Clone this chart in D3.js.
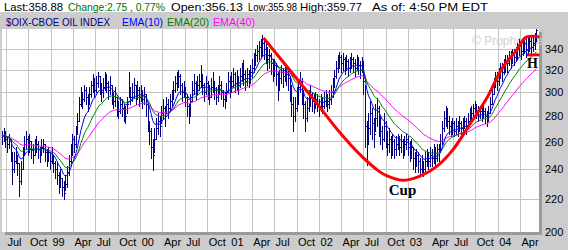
<!DOCTYPE html>
<html lang="en">
<head>
<meta charset="UTF-8">
<title>$OIX-CBOE OIL INDEX</title>
<script src="https://d3js.org/d3.v7.min.js"></script>
<style>
    body { margin: 0; background: #fff; }
    svg text { font-family: Arial, "Liberation Sans", sans-serif; font-size: 11px; }
    .grid line { stroke: #c4c4c4; stroke-width: 1; shape-rendering: crispEdges; }
    .bars line { stroke: #000080; stroke-width: 1; shape-rendering: crispEdges; }
</style>
</head>
<body>
<svg width="568" height="250"></svg>
<script>
// weekly bars, first week starts Mon 15 Jun 1998
const firstWeek = new Date(1998, 5, 15);

const closes = [
    264,266,262,258,262,252,240,246,250,244,232,240,
    250,258,262,256,260,254,250,256,258,254,250,256,258,252,
    248,252,246,250,244,240,
    236,230,234,228,224,230,238,
    246,252,262,258,268,276,
    290,298,294,302,296,290,298,
    306,310,302,308,314,306,300,304,312,308,302,306,298,292,296,288,
    284,290,286,282,280,290,
    302,296,300,306,298,302,296,300,294,298,
    290,276,268,256,250,
    262,270,276,272,282,286,280,290,286,292,296,
    302,308,312,314,306,300,304,296,288,282,
    292,302,308,300,306,310,
    314,306,300,308,302,296,304,310,302,296,300,
    306,300,294,292,300,310,304,
    310,316,308,312,306,314,320,316,310,316,312,318,
    322,328,334,338,342,340,346,340,336,
    330,334,326,318,324,316,
    306,312,318,314,320,316,312,
    304,290,280,286,296,304,
    310,300,290,278,286,294,298,292,
    288,294,290,286,292,288,292,296,290,294,300,306,
    314,322,328,332,326,
    330,324,328,322,326,330,326,322,328,324,320,326,
    310,272,258,
    270,282,274,266,278,286,276,
    268,262,272,266,258,262,
    256,260,254,258,262,256,260,254,258,262,256,252,256,
    248,244,250,246,240,244,240,246,250,
    246,250,248,252,248,254,252,
    260,270,278,282,276,272,
    270,274,268,272,270,274,270,272,276,272,276,280,
    282,286,288,284,280,284,282,284,280,278,282,
    290,298,306,312,310,316,320,318,324,328,
    326,332,330,336,332,336,
    340,344,338,342,346,340,344,348,342,346,350,358.88
];

const highs = [
    268,270,268,264,266,262,252,252,256,250,244,246,
    256,264,268,264,266,260,258,262,264,260,256,262,262,258,
    254,256,252,256,250,246,
    244,238,240,234,232,236,242,
    250,258,266,264,272,282,
    296,304,300,306,304,298,304,
    310,316,312,314,318,314,308,312,318,316,310,314,306,300,304,296,
    292,296,294,290,288,296,
    318,304,308,312,306,310,304,306,302,304,
    298,290,276,270,262,
    270,278,282,280,288,294,288,296,294,298,302,
    310,314,318,320,316,308,310,304,298,290,
    298,310,316,310,314,316,
    324,316,308,314,310,306,312,318,310,304,306,
    314,310,302,300,308,318,314,
    318,322,318,320,314,322,326,329,320,322,320,324,
    330,336,340,344,348,350,354,350,346,
    342,340,336,330,330,326,
    318,320,324,322,326,322,320,
    314,306,296,296,304,310,
    318,312,302,292,296,302,306,300,
    298,300,298,294,298,296,300,302,298,302,306,312,
    320,328,334,337,334,
    336,332,334,330,332,336,332,330,334,332,328,332,
    328,306,276,
    282,292,286,278,290,295,288,
    280,272,282,276,268,270,
    264,266,262,264,266,264,266,262,264,266,264,260,262,
    256,252,254,252,248,250,246,252,254,
    252,256,254,258,256,258,258,
    266,276,284,288,286,280,
    276,278,276,278,276,280,276,278,280,278,282,286,
    288,290,292,290,288,288,288,290,286,284,288,
    296,304,312,318,318,322,326,326,330,334,
    334,338,338,340,340,342,
    346,350,348,350,352,350,352,354,352,354,356,359.77
];

const lows = [
    258,260,256,252,255,246,230,238,244,236,222,230,
    240,250,254,250,252,248,244,250,252,248,245,250,252,246,
    242,246,240,244,238,234,
    230,224,228,222,220,226,228,
    236,244,250,252,256,266,
    276,288,286,292,290,284,290,
    296,300,296,300,304,298,292,296,302,300,294,298,290,286,288,280,
    278,282,280,276,274,282,
    296,290,292,296,290,294,288,292,286,290,
    280,268,258,248,239,
    252,262,266,264,274,278,272,282,278,284,288,
    294,300,302,304,298,292,296,288,280,274,
    280,292,298,294,298,302,
    304,298,292,298,294,290,296,300,294,290,292,
    298,294,288,286,292,300,296,
    300,304,300,302,298,304,310,306,302,306,304,308,
    312,318,324,328,330,332,334,330,326,
    320,322,316,310,314,306,
    293,302,308,304,310,306,302,
    292,280,268,276,284,290,
    300,290,278,268,276,284,288,284,
    282,286,284,280,284,282,286,288,284,286,290,296,
    304,312,318,322,318,
    320,316,320,314,318,322,318,314,320,316,312,318,
    298,256,243,
    258,266,262,256,268,272,264,
    258,254,260,256,250,252,
    248,250,248,250,254,250,252,248,250,254,250,246,248,
    240,238,242,238,236,238,235,238,242,
    240,242,242,244,242,246,246,
    252,258,268,272,270,266,
    264,266,264,266,264,268,266,266,270,266,270,274,
    276,278,280,278,276,278,276,278,274,272,276,
    282,290,298,304,302,306,312,310,316,318,
    318,324,322,326,324,328,
    330,334,330,334,336,332,336,338,334,338,340,348
];

const yTicks = [200, 220, 240, 260, 280, 300, 320, 340];
const emaPeriods = [10, 20, 40];

// cup drawn on the chart
const cupDates = ["2001-05-19","2001-09-03","2001-12-22","2002-03-26","2002-06-28","2002-09-05",
    "2002-10-04","2002-12-08","2003-02-15","2003-04-26","2003-06-30","2003-09-08",
    "2003-11-16","2004-01-20","2004-03-18","2004-04-27","2004-06-20"];
const cupValues = [350.9,319.7,290.5,267.0,248.4,238.2,235.4,232.3,235.0,241.7,253.3,272.8,
    294.1,321.5,338.4,351.7,351.7];
const handleDates = ["2004-04-30", "2004-06-20"];
const handleValue = 334;

const quote = [
    { text: "Last:358.88", x: 4, w: 59, color: "#000" },
    { text: "Change:2.75 , 0.77%", x: 68, w: 97, color: "#007000" },
    { text: "Open:356.13", x: 171, w: 72, color: "#000" },
    { text: "Low:355.98", x: 248, w: 49, color: "#000" },
    { text: "High:359.77", x: 300, w: 62, color: "#000" },
    { text: "As of: 4:50 PM EDT", x: 372, w: 116, color: "#000" }
];
const legend = [
    { text: "$OIX-CBOE OIL INDEX", x: 6, w: 104, color: "#000080" },
    { text: "EMA(10)", x: 122, w: 41, color: "#0000ff" },
    { text: "EMA(20)", x: 167, w: 42, color: "#008000" },
    { text: "EMA(40)", x: 213, w: 42, color: "#ff00ff" }
];
const emaColors = ["#0000ff", "#008000", "#ff00ff"];

const parse = d3.timeParse("%Y-%m-%d");
const weeks = closes.map((c, i) => ({
    date: new Date(1998, 5, 15 + 7 * i),
    close: c, high: highs[i], low: lows[i]
}));

function ema(period) {
    const k = 2 / (period + 1);
    let prev = weeks[0].close;
    return weeks.map(d => {
        prev = d.close * k + prev * (1 - k);
        return { date: d.date, value: prev };
    });
}

const plot = { left: 2, right: 539, top: 29, bottom: 232 };

const x = d3.scaleTime()
    .domain([firstWeek, new Date(2004, 5, 20)])
    .range([plot.left, plot.right + 0.5]);

const y = d3.scaleLog()
    .domain([200, 360])
    .range([plot.bottom, plot.top]);

const svg = d3.select("svg");

// background panels
svg.append("rect").attr("width", 568).attr("height", 250).attr("fill", "#cccccc");
svg.append("rect").attr("width", 568).attr("height", 12).attr("fill", "#ffffff");
svg.append("rect")
    .attr("x", plot.left + 3).attr("y", plot.top + 3)
    .attr("width", plot.right - plot.left).attr("height", plot.bottom - plot.top)
    .attr("fill", "#9a9a9a");
svg.append("rect")
    .attr("x", plot.left).attr("y", plot.top)
    .attr("width", plot.right - plot.left).attr("height", plot.bottom - plot.top)
    .attr("fill", "#ffffff");

// header texts
svg.selectAll(".quote")
    .data(quote)
    .enter().append("text")
    .attr("x", d => d.x)
    .attr("y", 10.5)
    .attr("fill", d => d.color)
    .attr("textLength", d => d.w)
    .attr("lengthAdjust", "spacingAndGlyphs")
    .text(d => d.text);

svg.selectAll(".legend")
    .data(legend)
    .enter().append("text")
    .attr("x", d => d.x)
    .attr("y", 26)
    .attr("fill", d => d.color)
    .attr("textLength", d => d.w)
    .attr("lengthAdjust", "spacingAndGlyphs")
    .text(d => d.text);

// grid
const quarters = d3.timeMonth.every(3).range(new Date(1998, 6, 1), new Date(2004, 5, 1));
const grid = svg.append("g").attr("class", "grid");
grid.selectAll(".v")
    .data(quarters)
    .enter().append("line")
    .attr("x1", d => Math.round(x(d)) + 0.5)
    .attr("x2", d => Math.round(x(d)) + 0.5)
    .attr("y1", plot.top)
    .attr("y2", plot.bottom);
grid.selectAll(".h")
    .data(yTicks.slice(1))
    .enter().append("line")
    .attr("x1", plot.left)
    .attr("x2", plot.right)
    .attr("y1", d => Math.round(y(d)) + 0.5)
    .attr("y2", d => Math.round(y(d)) + 0.5);

// watermark
svg.append("text")
    .attr("x", 472).attr("y", 45)
    .attr("fill", "#d0d0d0")
    .style("font-size", "12px")
    .text("\u00a9 Prophet.net");

// price bars
const bars = svg.append("g").attr("class", "bars");
bars.selectAll(".hl")
    .data(weeks)
    .enter().append("line")
    .attr("x1", d => Math.round(x(d.date)) + 0.5)
    .attr("x2", d => Math.round(x(d.date)) + 0.5)
    .attr("y1", d => Math.round(y(d.high)))
    .attr("y2", d => Math.round(y(d.low)) + 1);
bars.selectAll(".cl")
    .data(weeks)
    .enter().append("line")
    .attr("x1", d => Math.round(x(d.date)) + 1)
    .attr("x2", d => Math.round(x(d.date)) + 2)
    .attr("y1", d => Math.round(y(d.close)) + 0.5)
    .attr("y2", d => Math.round(y(d.close)) + 0.5);

// moving averages
const line = d3.line().x(d => x(d.date)).y(d => y(d.value));
emaPeriods.slice().reverse().forEach((p, j) => {
    svg.append("path")
        .datum(ema(p))
        .attr("fill", "none")
        .attr("stroke", emaColors[emaPeriods.length - 1 - j])
        .attr("stroke-width", 1)
        .attr("d", line);
});

// cup and handle
const cup = cupDates.map((d, i) => ({ date: parse(d), value: cupValues[i] }));
svg.append("path")
    .datum(cup)
    .attr("fill", "none")
    .attr("stroke", "#ff0000")
    .attr("stroke-width", 3)
    .attr("d", d3.line().curve(d3.curveCatmullRom.alpha(0.5)).x(d => x(d.date)).y(d => y(d.value)));
svg.append("line")
    .attr("x1", x(parse(handleDates[0])))
    .attr("x2", x(parse(handleDates[1])))
    .attr("y1", y(handleValue))
    .attr("y2", y(handleValue))
    .attr("stroke", "#ff0000")
    .attr("stroke-width", 3);

svg.append("text")
    .attr("x", x(parse("2002-12-08")))
    .attr("y", y(222.5))
    .attr("text-anchor", "middle")
    .style("font-family", "'Times New Roman', 'Liberation Serif', serif")
    .style("font-size", "15px")
    .style("font-weight", "bold")
    .text("Cup");
svg.append("text")
    .attr("x", x(parse("2004-05-22")))
    .attr("y", y(321.6))
    .attr("text-anchor", "middle")
    .style("font-family", "'Times New Roman', 'Liberation Serif', serif")
    .style("font-size", "14px")
    .style("font-weight", "bold")
    .text("H");

// axes
const yAxis = svg.append("g")
    .attr("transform", "translate(545,0)")
    .call(d3.axisRight(y).tickValues(yTicks).tickSize(0).tickPadding(0).tickFormat(d3.format("d")));
yAxis.select(".domain").remove();
yAxis.selectAll("text")
    .attr("fill", "#000")
    .attr("dy", "0.34em")
    .style("font-size", "11px")
    .style("font-family", "Arial, 'Liberation Sans', sans-serif");

const fmt = d => d.getMonth() === 0 ? d3.timeFormat("%y")(d) : d3.timeFormat("%b")(d);
const xAxis = svg.append("g")
    .attr("transform", "translate(0,246)")
    .call(d3.axisBottom(x).tickValues(quarters).tickSize(0).tickPadding(0).tickFormat(fmt));
xAxis.select(".domain").remove();
xAxis.selectAll("text")
    .attr("fill", "#000")
    .attr("y", 0)
    .attr("dy", 0)
    .attr("x", 1)
    .attr("text-anchor", "start")
    .style("font-size", "11px")
    .style("font-family", "Arial, 'Liberation Sans', sans-serif");
</script>
</body>
</html>
